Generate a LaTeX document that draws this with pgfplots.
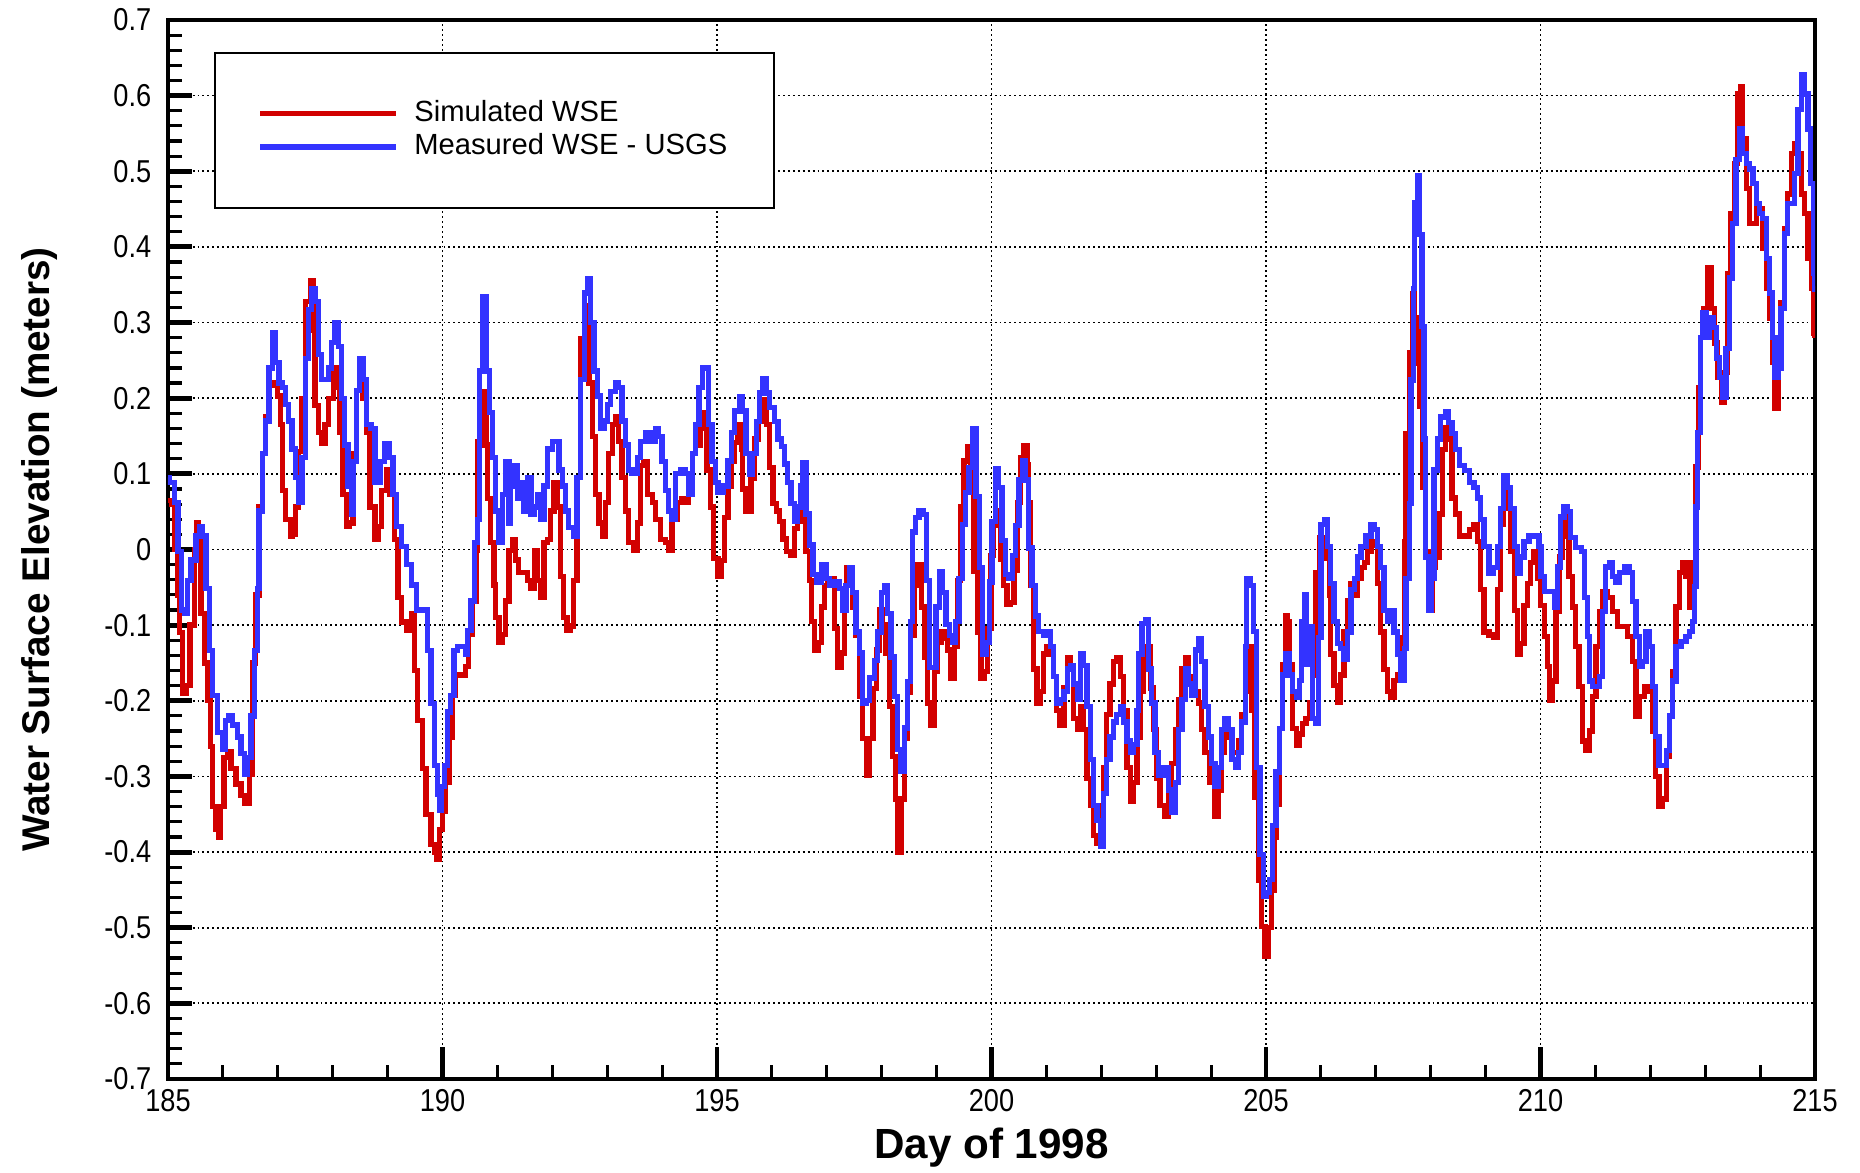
\documentclass[border=0pt]{standalone}
\usepackage{fontspec}
\setmainfont{Liberation Sans}
\newfontfamily\tickfont[FakeStretch=0.86]{Liberation Sans}
\usepackage{pgfplots}
\pgfplotsset{compat=1.18}
\definecolor{simred}{RGB}{210,0,0}
\definecolor{measblue}{RGB}{51,51,255}

\pgfplotstableread{
x y
185.00 0.065
185.06 0.06
185.12 0.0
185.18 -0.06
185.21 -0.11
185.27 -0.19
185.33 -0.18
185.40 -0.10
185.48 0.0
185.52 0.035
185.56 0.01
185.60 -0.085
185.66 -0.15
185.72 -0.20
185.77 -0.26
185.81 -0.34
185.87 -0.37
185.92 -0.38
185.96 -0.34
186.02 -0.275
186.08 -0.267
186.15 -0.29
186.24 -0.31
186.33 -0.325
186.39 -0.335
186.48 -0.297
186.54 -0.15
186.60 -0.06
186.66 0.056
186.72 0.127
186.78 0.176
186.84 0.217
186.93 0.22
186.99 0.203
187.05 0.165
187.08 0.078
187.14 0.04
187.23 0.018
187.26 0.02
187.32 0.056
187.38 0.13
187.44 0.2
187.50 0.328
187.59 0.355
187.65 0.29
187.68 0.19
187.74 0.155
187.80 0.14
187.86 0.165
187.92 0.2
188.01 0.24
188.07 0.214
188.13 0.155
188.19 0.073
188.25 0.03
188.31 0.035
188.37 0.127
188.43 0.21
188.49 0.247
188.55 0.2
188.61 0.155
188.68 0.056
188.77 0.013
188.83 0.03
188.89 0.078
188.98 0.105
189.04 0.073
189.13 0.013
189.19 -0.063
189.25 -0.096
189.34 -0.107
189.43 -0.085
189.49 -0.16
189.55 -0.226
189.64 -0.29
189.70 -0.35
189.79 -0.39
189.85 -0.40
189.90 -0.41
189.95 -0.37
190.00 -0.346
190.06 -0.308
190.12 -0.248
190.18 -0.193
190.24 -0.166
190.33 -0.166
190.42 -0.155
190.48 -0.112
190.55 -0.068
190.61 -0.001
190.64 0.143
190.70 0.138
190.76 0.209
190.79 0.138
190.82 0.067
190.88 0.009
190.94 -0.047
190.97 -0.09
191.03 -0.123
191.09 -0.112
191.15 -0.068
191.21 -0.001
191.27 0.013
191.33 -0.014
191.39 -0.03
191.48 -0.03
191.55 -0.041
191.61 -0.052
191.67 -0.001
191.73 -0.041
191.79 -0.063
191.85 0.009
191.91 0.013
191.97 0.051
192.03 0.089
192.09 0.056
192.15 -0.036
192.21 -0.09
192.27 -0.107
192.33 -0.101
192.39 -0.041
192.45 0.095
192.52 0.279
192.61 0.323
192.67 0.22
192.73 0.149
192.79 0.073
192.85 0.035
192.91 0.018
192.97 0.062
193.03 0.127
193.09 0.165
193.15 0.176
193.21 0.143
193.27 0.095
193.33 0.051
193.39 0.009
193.48 -0.001
193.55 0.035
193.61 0.111
193.67 0.116
193.73 0.073
193.82 0.062
193.88 0.04
193.97 0.013
194.06 0.009
194.12 -0.001
194.18 0.04
194.27 0.062
194.36 0.067
194.42 0.062
194.48 0.073
194.55 0.127
194.61 0.138
194.70 0.181
194.76 0.16
194.82 0.105
194.88 0.056
194.94 -0.012
195.02 -0.035
195.08 -0.015
195.14 0.042
195.20 0.084
195.26 0.117
195.32 0.141
195.38 0.165
195.44 0.132
195.47 0.08
195.53 0.051
195.59 0.051
195.62 0.094
195.68 0.146
195.75 0.169
195.84 0.198
195.90 0.165
195.96 0.108
196.02 0.061
196.08 0.051
196.14 0.037
196.20 0.014
196.26 -0.003
196.35 -0.008
196.41 0.028
196.47 0.037
196.53 0.051
196.59 0.037
196.62 -0.003
196.68 -0.041
196.72 -0.095
196.78 -0.133
196.84 -0.123
196.90 -0.076
196.96 -0.048
197.02 -0.038
197.08 -0.038
197.14 -0.104
197.20 -0.156
197.26 -0.137
197.32 -0.076
197.36 -0.024
197.41 -0.038
197.47 -0.076
197.53 -0.114
197.59 -0.194
197.65 -0.25
197.72 -0.298
197.78 -0.25
197.84 -0.184
197.90 -0.133
197.96 -0.08
198.02 -0.099
198.08 -0.137
198.14 -0.208
198.20 -0.274
198.25 -0.33
198.29 -0.40
198.35 -0.33
198.41 -0.25
198.47 -0.189
198.53 -0.114
198.59 -0.048
198.65 -0.02
198.72 -0.076
198.78 -0.142
198.84 -0.203
198.90 -0.232
198.96 -0.161
199.02 -0.123
199.08 -0.109
199.14 -0.118
199.20 -0.133
199.26 -0.17
199.32 -0.128
199.38 -0.041
199.44 0.056
199.50 0.117
199.56 0.136
199.62 0.084
199.68 -0.029
199.75 -0.109
199.81 -0.17
199.87 -0.161
199.93 -0.104
199.99 -0.008
200.04 0.032
200.10 0.052
200.16 -0.013
200.22 -0.048
200.28 -0.073
200.35 -0.07
200.41 -0.028
200.47 0.062
200.53 0.122
200.59 0.137
200.65 0.112
200.68 0.062
200.71 -0.048
200.77 -0.158
200.83 -0.203
200.89 -0.188
200.95 -0.138
201.01 -0.128
201.07 -0.138
201.13 -0.168
201.19 -0.213
201.25 -0.233
201.32 -0.183
201.38 -0.143
201.44 -0.158
201.50 -0.223
201.56 -0.238
201.62 -0.208
201.68 -0.238
201.74 -0.303
201.80 -0.338
201.86 -0.378
201.92 -0.388
201.98 -0.338
202.04 -0.288
202.10 -0.218
202.16 -0.178
202.22 -0.148
202.28 -0.143
202.35 -0.168
202.41 -0.213
202.47 -0.288
202.53 -0.333
202.59 -0.308
202.65 -0.248
202.71 -0.188
202.77 -0.138
202.83 -0.128
202.89 -0.183
202.95 -0.238
203.01 -0.303
203.07 -0.338
203.16 -0.353
203.22 -0.313
203.28 -0.283
203.35 -0.238
203.41 -0.198
203.47 -0.158
203.53 -0.143
203.59 -0.168
203.65 -0.183
203.71 -0.188
203.77 -0.203
203.83 -0.238
203.89 -0.268
203.98 -0.308
204.07 -0.353
204.13 -0.318
204.19 -0.268
204.25 -0.238
204.32 -0.248
204.38 -0.268
204.44 -0.268
204.50 -0.253
204.56 -0.218
204.62 -0.188
204.68 -0.128
204.74 -0.213
204.80 -0.328
204.86 -0.438
204.92 -0.498
204.98 -0.538
205.04 -0.50
205.10 -0.45
205.15 -0.38
205.18 -0.337
205.24 -0.237
205.30 -0.152
205.36 -0.088
205.39 -0.095
205.42 -0.152
205.48 -0.237
205.55 -0.259
205.61 -0.244
205.67 -0.23
205.73 -0.223
205.79 -0.202
205.85 -0.166
205.91 -0.031
205.97 0.016
206.03 0.002
206.09 -0.012
206.15 -0.06
206.18 -0.138
206.24 -0.18
206.30 -0.202
206.36 -0.166
206.42 -0.109
206.48 -0.067
206.55 -0.045
206.61 -0.06
206.67 -0.038
206.73 -0.024
206.79 -0.017
206.85 -0.003
206.91 0.011
206.97 0.005
207.03 -0.045
207.09 -0.109
207.15 -0.159
207.21 -0.188
207.27 -0.195
207.33 -0.173
207.39 -0.166
207.45 -0.116
207.52 0.011
207.55 0.153
207.61 0.26
207.67 0.338
207.70 0.246
207.73 0.306
207.79 0.189
207.85 0.082
207.91 -0.003
207.97 -0.081
208.03 -0.024
208.09 -0.01
208.15 0.047
208.21 0.132
208.27 0.161
208.33 0.146
208.39 0.068
208.45 0.047
208.52 0.018
208.61 0.018
208.70 0.026
208.79 0.033
208.85 0.011
208.91 -0.053
208.97 -0.109
209.06 -0.113
209.15 -0.116
209.21 -0.053
209.27 0.033
209.33 0.075
209.39 0.054
209.45 -0.003
209.52 -0.081
209.58 -0.138
209.64 -0.124
209.70 -0.074
209.76 -0.045
209.82 -0.017
209.88 -0.003
209.94 -0.038
210.00 -0.074
210.07 -0.115
210.13 -0.155
210.16 -0.20
210.22 -0.174
210.28 -0.082
210.34 -0.01
210.40 0.043
210.46 0.017
210.52 -0.036
210.58 -0.076
210.64 -0.128
210.70 -0.181
210.77 -0.253
210.83 -0.266
210.89 -0.24
210.95 -0.194
211.01 -0.128
211.07 -0.082
211.13 -0.056
211.22 -0.063
211.31 -0.082
211.40 -0.102
211.50 -0.102
211.59 -0.115
211.68 -0.148
211.74 -0.22
211.80 -0.194
211.89 -0.181
211.98 -0.188
212.04 -0.24
212.10 -0.30
212.16 -0.34
212.22 -0.33
212.29 -0.273
212.35 -0.22
212.41 -0.161
212.47 -0.076
212.53 -0.03
212.59 -0.017
212.65 -0.036
212.71 -0.076
212.74 -0.017
212.79 -0.036
212.83 0.109
212.88 0.214
212.92 0.28
212.98 0.319
213.05 0.372
213.11 0.319
213.17 0.273
213.23 0.227
213.29 0.194
213.35 0.234
213.41 0.365
213.47 0.444
213.53 0.51
213.59 0.602
213.64 0.612
213.68 0.543
213.75 0.477
213.81 0.431
213.87 0.431
213.93 0.457
213.99 0.451
214.05 0.398
214.11 0.345
214.17 0.306
214.23 0.247
214.27 0.187
214.33 0.24
214.38 0.326
214.44 0.424
214.50 0.47
214.57 0.523
214.63 0.536
214.69 0.523
214.75 0.47
214.81 0.444
214.87 0.385
214.93 0.345
214.98 0.286
215.00 0.28
}\simulated

\pgfplotstableread{
x y
185.00 0.095
185.03 0.089
185.12 0.062
185.18 -0.003
185.24 -0.08
185.30 -0.085
185.36 -0.041
185.42 -0.014
185.51 0.018
185.57 0.03
185.63 0.018
185.69 -0.052
185.75 -0.134
185.81 -0.193
185.90 -0.242
185.99 -0.264
186.05 -0.226
186.11 -0.22
186.18 -0.232
186.27 -0.248
186.33 -0.27
186.39 -0.297
186.45 -0.275
186.51 -0.22
186.57 -0.134
186.63 -0.052
186.66 0.051
186.72 0.127
186.78 0.17
186.84 0.24
186.90 0.287
186.96 0.247
187.02 0.22
187.08 0.214
187.14 0.192
187.20 0.17
187.26 0.133
187.32 0.095
187.38 0.062
187.44 0.122
187.50 0.252
187.56 0.317
187.62 0.345
187.68 0.328
187.74 0.258
187.80 0.225
187.86 0.225
187.92 0.24
187.98 0.274
188.04 0.30
188.10 0.268
188.16 0.20
188.22 0.138
188.28 0.084
188.34 0.046
188.37 0.116
188.43 0.21
188.49 0.252
188.55 0.225
188.61 0.165
188.70 0.16
188.77 0.089
188.86 0.116
188.95 0.14
189.04 0.122
189.10 0.073
189.16 0.03
189.25 0.004
189.34 -0.02
189.43 -0.047
189.52 -0.08
189.61 -0.08
189.67 -0.08
189.73 -0.134
189.79 -0.204
189.85 -0.286
189.91 -0.324
189.94 -0.345
189.98 -0.313
190.03 -0.286
190.09 -0.215
190.15 -0.193
190.21 -0.134
190.27 -0.128
190.36 -0.128
190.42 -0.139
190.45 -0.107
190.52 -0.068
190.58 0.009
190.64 0.04
190.67 0.236
190.73 0.334
190.76 0.334
190.79 0.236
190.85 0.181
190.91 0.122
190.97 0.051
191.03 0.009
191.09 0.073
191.15 0.116
191.21 0.035
191.24 0.084
191.30 0.111
191.36 0.067
191.42 0.089
191.48 0.051
191.55 0.095
191.61 0.046
191.67 0.056
191.73 0.073
191.79 0.04
191.85 0.084
191.91 0.133
192.00 0.143
192.06 0.143
192.12 0.105
192.18 0.084
192.24 0.051
192.30 0.029
192.39 0.018
192.45 0.095
192.52 0.225
192.58 0.339
192.64 0.358
192.70 0.30
192.76 0.236
192.82 0.203
192.88 0.16
192.94 0.17
193.00 0.192
193.06 0.209
193.15 0.22
193.21 0.214
193.27 0.17
193.33 0.138
193.39 0.105
193.45 0.10
193.55 0.122
193.61 0.143
193.70 0.154
193.79 0.143
193.88 0.16
193.94 0.149
194.00 0.116
194.06 0.078
194.12 0.051
194.18 0.04
194.24 0.10
194.33 0.105
194.42 0.10
194.48 0.073
194.55 0.127
194.61 0.165
194.67 0.214
194.73 0.24
194.79 0.24
194.85 0.165
194.91 0.116
194.97 0.089
195.02 0.075
195.11 0.084
195.20 0.117
195.26 0.155
195.32 0.183
195.41 0.202
195.47 0.183
195.53 0.127
195.59 0.099
195.65 0.127
195.72 0.169
195.78 0.207
195.84 0.226
195.90 0.207
195.96 0.188
196.05 0.169
196.11 0.146
196.17 0.136
196.23 0.113
196.29 0.089
196.35 0.061
196.41 0.037
196.47 0.056
196.53 0.084
196.56 0.115
196.62 0.047
196.68 0.006
196.75 -0.033
196.81 -0.043
196.90 -0.02
196.99 -0.038
197.05 -0.048
197.14 -0.043
197.23 -0.052
197.29 -0.08
197.35 -0.048
197.41 -0.024
197.47 -0.057
197.53 -0.109
197.59 -0.137
197.65 -0.203
197.72 -0.20
197.78 -0.17
197.87 -0.147
197.93 -0.109
197.99 -0.057
198.05 -0.048
198.11 -0.085
198.17 -0.142
198.23 -0.194
198.29 -0.264
198.35 -0.293
198.41 -0.236
198.47 -0.175
198.53 -0.095
198.56 0.023
198.62 0.042
198.68 0.051
198.75 0.046
198.81 -0.041
198.87 -0.156
198.93 -0.156
198.99 -0.076
199.05 -0.029
199.11 -0.057
199.17 -0.099
199.23 -0.114
199.29 -0.123
199.35 -0.095
199.41 -0.038
199.47 0.033
199.53 0.075
199.59 0.108
199.65 0.16
199.72 0.07
199.78 -0.024
199.84 -0.138
199.90 -0.123
199.96 -0.043
200.01 0.037
200.07 0.107
200.13 0.082
200.19 0.012
200.25 -0.033
200.32 -0.038
200.38 -0.008
200.44 0.032
200.50 0.092
200.56 0.117
200.62 0.092
200.68 0.002
200.74 -0.048
200.80 -0.088
200.86 -0.108
200.95 -0.113
201.01 -0.108
201.07 -0.128
201.13 -0.168
201.19 -0.203
201.25 -0.198
201.32 -0.188
201.38 -0.158
201.44 -0.153
201.50 -0.178
201.56 -0.198
201.62 -0.138
201.68 -0.153
201.74 -0.208
201.80 -0.278
201.86 -0.338
201.92 -0.358
201.98 -0.393
202.04 -0.323
202.10 -0.278
202.16 -0.248
202.22 -0.228
202.28 -0.218
202.35 -0.208
202.41 -0.228
202.47 -0.253
202.53 -0.268
202.59 -0.258
202.65 -0.213
202.68 -0.138
202.74 -0.098
202.80 -0.093
202.86 -0.158
202.92 -0.203
202.98 -0.268
203.04 -0.298
203.13 -0.288
203.22 -0.318
203.28 -0.348
203.35 -0.308
203.41 -0.238
203.47 -0.198
203.53 -0.158
203.59 -0.178
203.65 -0.193
203.71 -0.133
203.77 -0.118
203.83 -0.148
203.89 -0.208
203.95 -0.248
204.01 -0.283
204.07 -0.313
204.13 -0.288
204.19 -0.238
204.25 -0.223
204.32 -0.238
204.38 -0.278
204.44 -0.288
204.50 -0.268
204.56 -0.228
204.62 -0.128
204.65 -0.038
204.71 -0.048
204.77 -0.108
204.83 -0.288
204.89 -0.403
204.95 -0.458
205.01 -0.453
205.06 -0.436
205.12 -0.365
205.18 -0.294
205.24 -0.237
205.30 -0.166
205.36 -0.138
205.42 -0.166
205.48 -0.188
205.55 -0.195
205.61 -0.173
205.64 -0.095
205.70 -0.06
205.73 -0.152
205.79 -0.102
205.85 -0.223
205.91 -0.23
205.96 -0.116
206.00 0.033
206.06 0.04
206.12 0.004
206.18 -0.045
206.24 -0.095
206.30 -0.124
206.36 -0.131
206.42 -0.145
206.48 -0.109
206.55 -0.053
206.61 -0.038
206.67 -0.01
206.73 0.004
206.82 0.018
206.91 0.033
206.97 0.026
207.03 0.004
207.09 -0.024
207.15 -0.081
207.21 -0.095
207.27 -0.081
207.33 -0.109
207.39 -0.138
207.45 -0.173
207.52 -0.131
207.55 -0.038
207.61 0.061
207.64 0.224
207.68 0.345
207.70 0.459
207.76 0.494
207.80 0.416
207.84 0.295
207.88 0.146
207.91 -0.01
207.97 -0.081
208.02 -0.038
208.06 0.105
208.12 0.146
208.18 0.175
208.27 0.182
208.33 0.168
208.39 0.153
208.45 0.132
208.52 0.111
208.61 0.104
208.70 0.089
208.79 0.082
208.85 0.068
208.91 0.04
208.97 0.004
209.06 -0.031
209.15 -0.024
209.21 0.004
209.27 0.054
209.33 0.097
209.39 0.082
209.45 0.054
209.52 0.004
209.58 -0.031
209.64 -0.01
209.70 0.011
209.79 0.018
209.88 0.018
209.97 0.004
210.01 -0.036
210.07 -0.056
210.19 -0.056
210.25 -0.076
210.31 -0.023
210.37 0.043
210.43 0.056
210.49 0.05
210.55 0.016
210.64 0.003
210.74 -0.003
210.80 -0.063
210.86 -0.115
210.89 -0.174
210.95 -0.181
211.01 -0.181
211.07 -0.168
211.13 -0.082
211.19 -0.023
211.25 -0.017
211.31 -0.036
211.37 -0.043
211.44 -0.03
211.53 -0.023
211.62 -0.03
211.68 -0.069
211.74 -0.115
211.80 -0.155
211.86 -0.148
211.92 -0.108
211.98 -0.128
212.04 -0.181
212.10 -0.247
212.16 -0.286
212.23 -0.286
212.29 -0.266
212.35 -0.22
212.41 -0.174
212.47 -0.128
212.56 -0.122
212.65 -0.115
212.71 -0.108
212.77 -0.095
212.80 -0.049
212.83 0.056
212.86 0.155
212.92 0.28
212.95 0.313
213.02 0.28
213.08 0.306
213.14 0.293
213.20 0.253
213.26 0.227
213.32 0.201
213.38 0.266
213.44 0.359
213.50 0.431
213.56 0.516
213.62 0.556
213.68 0.523
213.75 0.51
213.81 0.503
213.87 0.484
213.93 0.457
213.99 0.444
214.05 0.438
214.11 0.385
214.17 0.339
214.23 0.28
214.27 0.227
214.33 0.24
214.38 0.319
214.44 0.418
214.50 0.457
214.57 0.457
214.63 0.497
214.69 0.582
214.75 0.628
214.81 0.602
214.87 0.556
214.92 0.484
214.98 0.365
215.00 0.34
}\measured

\begin{document}
\begin{tikzpicture}
\useasboundingbox (-1.68cm,-0.94cm) rectangle (16.92cm,10.79cm);
\begin{axis}[
  at={(0,0)}, anchor=south west,
  scale only axis,
  width=16.47cm, height=10.59cm,
  xmin=185, xmax=215, ymin=-0.7, ymax=0.7,
  xtick={185,190,195,200,205,210,215},
  xticklabels={185,190,195,200,205,210,215},
  ytick={-0.7,-0.6,-0.5,-0.4,-0.3,-0.2,-0.1,0,0.1,0.2,0.3,0.4,0.5,0.6,0.7},
  yticklabels={-0.7,-0.6,-0.5,-0.4,-0.3,-0.2,-0.1,0,0.1,0.2,0.3,0.4,0.5,0.6,0.7},
  extra x ticks={190,195,200,205,210},
  extra x tick labels={},
  extra x tick style={grid=none, major tick length=0.32cm},
  minor tick num=4,
  tick pos=left,
  tick align=inside,
  major tick length=0.24cm,
  minor tick length=0.14cm,
  tick style={black, line width=0.9pt},
  major tick style={line width=1.4pt},
  axis line style={black, line width=1.3pt},
  grid=major,
  major grid style={black, line width=0.5pt, dash pattern=on 0.55pt off 0.85pt},
  ticklabel style={font=\tickfont\fontsize{9}{10}\selectfont},
  yticklabel style={inner xsep=0.16cm},
  xticklabel style={inner ysep=0.1cm},
  xlabel={Day of 1998},
  ylabel={Water Surface Elevation (meters)},
  xlabel style={at={(axis description cs:0.5,0)}, anchor=center, yshift=-0.69cm, font=\bfseries\fontsize{12}{14}\selectfont},
  ylabel style={at={(axis description cs:-0.0783,0.5)}, anchor=center, font=\bfseries\fontsize{11}{13}\selectfont},
  legend style={at={(axis cs:185.83,0.658)}, anchor=north west, draw=black, line width=0.6pt, fill=white,
     inner xsep=0.43cm, inner ysep=0.44cm, font=\fontsize{8.3}{9.5}\selectfont,
     nodes={inner sep=1pt}, column sep=0.12cm},
  legend cell align=left,
  legend image code/.code={\draw[#1] (0cm,0cm) -- (1.36cm,0cm);},
]
\addplot[const plot, color=simred, line width=1.5pt] table {\simulated};
\addlegendentry{Simulated WSE}
\addplot[const plot, color=measblue, line width=1.5pt] table {\measured};
\addlegendentry{Measured WSE - USGS}
\end{axis}
\end{tikzpicture}
\end{document}
